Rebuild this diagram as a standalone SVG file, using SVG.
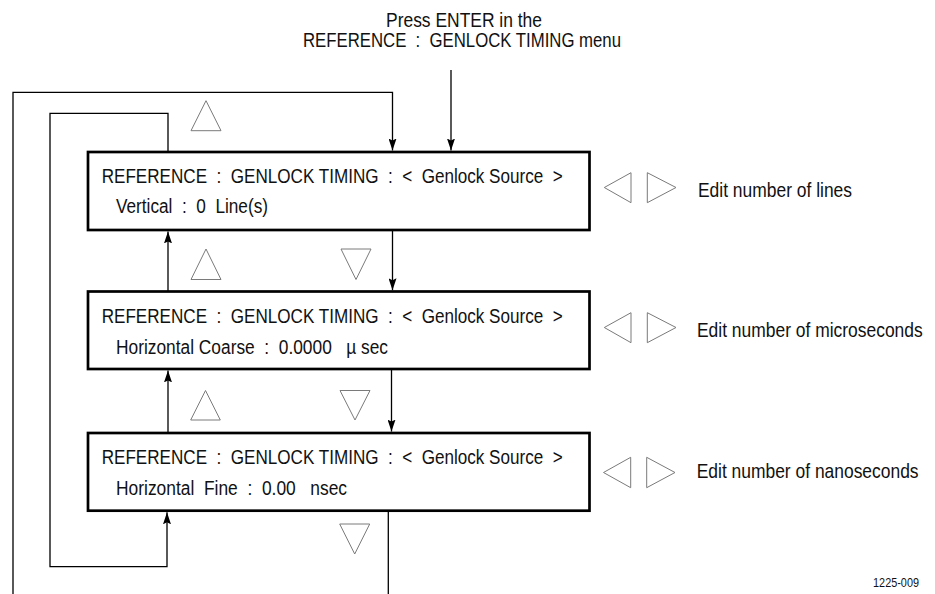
<svg xmlns="http://www.w3.org/2000/svg" width="935" height="594" viewBox="0 0 935 594">
<defs>
<style>
text{font-family:"Liberation Sans",Arial,sans-serif;fill:#111;white-space:pre;}
.t{font-size:20px;}
.s{font-size:12.5px;}
.box{fill:#fff;stroke:#000;stroke-width:2.7;}
.ln{fill:none;stroke:#000;stroke-width:1.3;}
.tri{fill:none;stroke:#7a7a7a;stroke-width:1;}
</style>
<marker id="ah" markerUnits="userSpaceOnUse" markerWidth="12" markerHeight="8" refX="12" refY="4" orient="auto">
<path d="M0,0 L12,4 L0,8 L2,4 z" fill="#000"/>
</marker>
</defs>
<rect width="935" height="594" fill="#fff"/>

<g id="title">
<text class="t" x="464" y="27" text-anchor="middle" textLength="156" lengthAdjust="spacingAndGlyphs">Press ENTER in the</text>
<text class="t" x="462" y="47" text-anchor="middle" textLength="318" lengthAdjust="spacingAndGlyphs">REFERENCE  :  GENLOCK TIMING menu</text>
</g>

<g id="connectors">
<path class="ln" d="M451,70 V150.5" marker-end="url(#ah)"/>
<path class="ln" d="M13,594 V92.3 H392.5 V150.5" marker-end="url(#ah)"/>
<path class="ln" d="M168,151 V113.3 H50 V566.7 H167 V512.3" marker-end="url(#ah)"/>
<path class="ln" d="M392.5,231 V290.3" marker-end="url(#ah)"/>
<path class="ln" d="M168,291 V231.4" marker-end="url(#ah)"/>
<path class="ln" d="M391.5,370 V431.6" marker-end="url(#ah)"/>
<path class="ln" d="M168,432 V370.4" marker-end="url(#ah)"/>
<path class="ln" d="M388.3,512 V594"/>
</g>

<g id="keys">
<polygon class="tri" points="191,130.7 221,130.7 206,100.7"/>
<polygon class="tri" points="191,279.5 221,279.5 206,249"/>
<polygon class="tri" points="190.7,420 220.3,420 205.5,390.5"/>
<polygon class="tri" points="341,249 371,249 356,279.5"/>
<polygon class="tri" points="340,390.5 370,390.5 355,420"/>
<polygon class="tri" points="339.7,524 369.7,524 354.7,554"/>
<polygon class="tri" points="604.3,187.5 631,172.7 631,202.7"/>
<polygon class="tri" points="647.3,172.7 647.3,202.7 676,187.5"/>
<polygon class="tri" points="604.3,327.5 631,312.7 631,342.7"/>
<polygon class="tri" points="647.3,312.7 647.3,342.7 676,327.5"/>
<polygon class="tri" points="603.5,472.5 630.7,457.3 630.7,487.7"/>
<polygon class="tri" points="646.7,457.3 646.7,487.7 675,472.5"/>
</g>

<g id="node-vertical">
<rect class="box" x="88" y="152" width="501.5" height="78"/>
<text class="t" x="101.7" y="183" textLength="461" lengthAdjust="spacingAndGlyphs">REFERENCE  :  GENLOCK TIMING  :  &lt;  Genlock Source  &gt;</text>
<text class="t" x="116" y="213" textLength="152" lengthAdjust="spacingAndGlyphs">Vertical  :  0  Line(s)</text>
</g>

<g id="node-coarse">
<rect class="box" x="88" y="291.5" width="501.5" height="77.5"/>
<text class="t" x="101.7" y="322.5" textLength="461" lengthAdjust="spacingAndGlyphs">REFERENCE  :  GENLOCK TIMING  :  &lt;  Genlock Source  &gt;</text>
<text class="t" x="116" y="353.5" textLength="272" lengthAdjust="spacingAndGlyphs">Horizontal Coarse  :  0.0000   µ sec</text>
</g>

<g id="node-fine">
<rect class="box" x="88" y="433" width="501.5" height="77.7"/>
<text class="t" x="101.7" y="463.5" textLength="461" lengthAdjust="spacingAndGlyphs">REFERENCE  :  GENLOCK TIMING  :  &lt;  Genlock Source  &gt;</text>
<text class="t" x="116" y="495" textLength="231" lengthAdjust="spacingAndGlyphs">Horizontal  Fine  :  0.00   nsec</text>
</g>

<g id="labels">
<text class="t" transform="translate(698,197) scale(0.872,1)">Edit number of lines</text>
<text class="t" transform="translate(697,337) scale(0.872,1)">Edit number of microseconds</text>
<text class="t" transform="translate(696.7,478) scale(0.872,1)">Edit number of nanoseconds</text>
<text class="s" transform="translate(919,587) scale(0.87,1)" text-anchor="end">1225-009</text>
</g>
</svg>
